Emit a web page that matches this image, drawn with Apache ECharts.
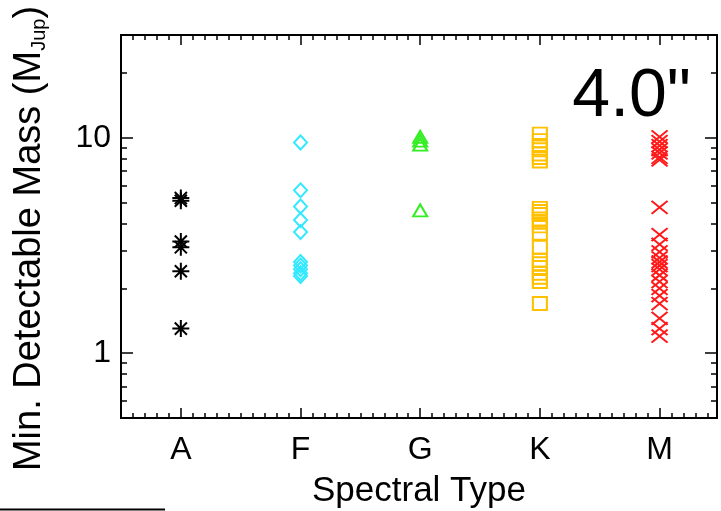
<!DOCTYPE html>
<html>
<head>
<meta charset="utf-8">
<script src="https://cdn.jsdelivr.net/npm/echarts@6/dist/echarts.min.js"></script>
<style>
  html, body { margin: 0; padding: 0; background: #fff; }
  #chart { width: 721px; height: 511px; }
</style>
</head>
<body>
<div id="chart"></div>
<script>
// spectral types and min. detectable mass (M_Jup) per star
var categories = ['A', 'F', 'G', 'K', 'M'];
var massA = [5.1, 5.25, 3.1, 3.3, 2.4, 1.3];
var massF = [9.5, 5.7, 4.8, 4.15, 3.65, 2.65, 2.55, 2.45, 2.35, 2.28];
var massG = [10.1, 9.7, 9.3, 4.6];
var massK = [10.4, 9.7, 9.2, 8.8, 8.4, 8.1, 7.8, 4.7, 4.55, 4.4, 4.2, 4.05, 3.9, 3.6, 3.1,
             2.7, 2.6, 2.5, 2.35, 2.25, 2.15, 1.7];
var massM = [10.1, 9.6, 9.2, 8.8, 8.5, 8.1, 7.9, 4.75, 3.55, 3.2, 2.95, 2.77, 2.65, 2.55, 2.45,
             2.3, 2.15, 2.0, 1.85, 1.7, 1.45, 1.3, 1.2];
var yMajor = [1, 10];
var yMinor = [0.6, 0.7, 0.8, 0.9, 2, 3, 4, 5, 6, 7, 8, 9, 20];
var xMajor = [0, 1, 2, 3, 4];
var xMinor = [];
for (var k = -4; k <= 44; k++) { if (k % 10 !== 0) xMinor.push(k / 10); }

var chart = echarts.init(document.getElementById('chart'));

var font = 'Liberation Sans, Arial, sans-serif';
var xMin = -0.5, xMax = 4.48;
var yMin = 0.5, yMax = 30;

function xAx(pos, ticks, len, labels) {
  return {
    type: 'value', position: pos, min: xMin, max: xMax,
    axisLine: { show: true, onZero: false, lineStyle: { color: '#000', width: 2 } },
    axisTick: { show: true, inside: true, length: len, customValues: ticks, lineStyle: { color: '#000', width: 1.5 } },
    axisLabel: labels ? {
      show: true, customValues: xMajor, margin: 16,
      formatter: function (v) { return categories[Math.round(v)]; },
      color: '#000', fontSize: 32, fontFamily: font
    } : { show: false },
    splitLine: { show: false }
  };
}
function yAx(pos, ticks, len, labels) {
  return {
    type: 'log', position: pos, min: yMin, max: yMax, logBase: 10,
    axisLine: { show: true, onZero: false, lineStyle: { color: '#000', width: 2 } },
    axisTick: { show: true, inside: true, length: len, customValues: ticks, lineStyle: { color: '#000', width: 1.5 } },
    axisLabel: labels ? {
      show: true, customValues: yMajor, margin: 10,
      color: '#000', fontSize: 32, fontFamily: font
    } : { show: false },
    splitLine: { show: false }
  };
}

var xBottom = xAx('bottom', xMajor, 10, true);
xBottom.name = 'Spectral Type';
xBottom.nameLocation = 'middle';
xBottom.nameGap = 56;
xBottom.nameTextStyle = { color: '#000', fontSize: 35, fontFamily: font };

var yLeft = yAx('left', yMajor, 12, true);
yLeft.name = 'Min. Detectable Mass (M{s|Jup})';
yLeft.nameLocation = 'middle';
yLeft.nameRotate = 90;
yLeft.nameGap = 72;
yLeft.nameTextStyle = {
  color: '#000', fontSize: 38, fontFamily: font,
  padding: [0, 24, 0, 0],
  rich: { s: { fontSize: 20, fontFamily: font, verticalAlign: 'bottom', padding: [18, 0, 0, 0] } }
};

function pts(i, arr) { return arr.map(function (v) { return [i, v]; }); }

var asterisk = 'path://M8,0L8,16M0,8L16,8M2.3,2.3L13.7,13.7M13.7,2.3L2.3,13.7';
var cross = 'path://M0,0L16,13M16,0L0,13';

function sc(name, i, arr, symbol, size, color) {
  return {
    name: name, type: 'scatter', xAxisIndex: 0, yAxisIndex: 0,
    data: pts(i, arr), symbol: symbol, symbolSize: size,
    itemStyle: { color: 'none', borderColor: color, borderWidth: 2, opacity: 1 },
    emphasis: { disabled: true }
  };
}

option = {
  backgroundColor: '#fff',
  animation: false,
  grid: { left: 121, right: 4, top: 35, bottom: 93, containLabel: false, outerBoundsMode: 'none' },
  xAxis: [
    xBottom,
    xAx('bottom', xMinor, 5, false),
    xAx('top', xMajor, 10, false),
    xAx('top', xMinor, 5, false)
  ],
  yAxis: [
    yLeft,
    yAx('left', yMinor, 6, false),
    yAx('right', yMajor, 12, false),
    yAx('right', yMinor, 6, false)
  ],
  series: [
    sc('A', 0, massA, asterisk, [17, 17], '#000'),
    sc('F', 1, massF, 'diamond', [13, 14], '#33e8ff'),
    sc('G', 2, massG, 'triangle', [14, 12], '#33ee22'),
    sc('K', 3, massK, 'rect', [14, 13], '#ffc000'),
    sc('M', 4, massM, cross, [16, 13], '#ff1a1a')
  ],
  graphic: [
    { type: 'text', right: 30, top: 63, style: { text: '4.0"', fontSize: 68, fontFamily: font, fill: '#000' } },
    { type: 'line', shape: { x1: 0, y1: 509.5, x2: 165, y2: 509.5 }, style: { stroke: '#000', lineWidth: 2 } }
  ]
};
chart.setOption(option);
</script>
</body>
</html>
